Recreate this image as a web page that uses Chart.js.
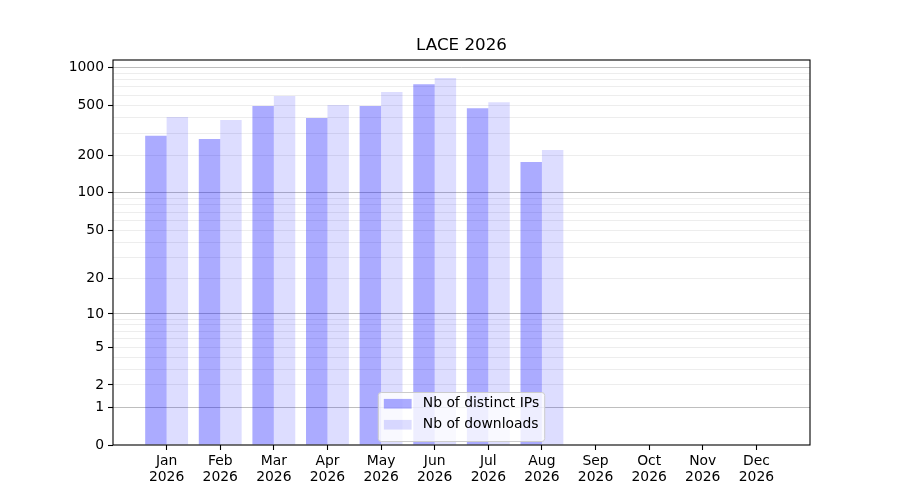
<!DOCTYPE html>
<html>
<head>
<meta charset="utf-8">
<script src="https://cdn.jsdelivr.net/npm/chart.js@4"></script>
<style>
  html, body { margin: 0; padding: 0; background: #fff; }
  #wrap { width: 900px; height: 500px; }
</style>
</head>
<body>
<div id="wrap"><canvas id="chart"></canvas></div>
<script>
// data
const months = ['Jan', 'Feb', 'Mar', 'Apr', 'May', 'Jun', 'Jul', 'Aug', 'Sep', 'Oct', 'Nov', 'Dec'];
const year = '2026';
const distinctIPs = [285, 269, 492, 395, 492, 736, 474, 176, 0, 0, 0, 0];
const downloads = [403, 381, 591, 501, 636, 822, 529, 220, 0, 0, 0, 0];
const yTickLabels = [0, 1, 2, 5, 10, 20, 50, 100, 200, 500, 1000];
const yDecades = [1, 10, 100, 1000];
const yMax = 1145;
const chartTitle = 'LACE 2026';

const FONT = 'DejaVu Sans';
Chart.defaults.font.family = FONT;
Chart.defaults.color = '#000';

// minor gridlines at 2..9 of each decade
const yGridValues = [0];
yDecades.forEach(d => {
  for (let k = 1; k <= 9; k++) yGridValues.push(d * k);
});

// y axis on a log10(1 + v) scale
class Log1pScale extends Chart.Scale {
  static id = 'log1p';
  static defaults = {};

  determineDataLimits() {
    this.min = this.options.min ?? 0;
    this.max = this.options.max ?? 1;
  }
  buildTicks() {
    return yGridValues
      .filter(v => v >= this.min && v <= this.max)
      .sort((a, b) => a - b)
      .map(v => ({ value: v }));
  }
  getLabelForValue(v) {
    return String(v);
  }
  configure() {
    super.configure();
    this._startValue = Math.log10(1 + this.min);
    this._valueRange = Math.log10(1 + this.max) - this._startValue;
  }
  getPixelForValue(v) {
    if (v === null || v === undefined || isNaN(v)) return NaN;
    return this.getPixelForDecimal((Math.log10(1 + v) - this._startValue) / this._valueRange);
  }
  getValueForPixel(p) {
    const d = this.getDecimalForPixel(p);
    return Math.pow(10, this._startValue + d * this._valueRange) - 1;
  }
}
Chart.register(Log1pScale);

// title centred over the axes, like matplotlib
const axesTitle = {
  id: 'axesTitle',
  afterDraw(chart) {
    const { ctx, chartArea: a } = chart;
    ctx.save();
    ctx.font = '16.7px "' + FONT + '"';
    ctx.fillStyle = '#000';
    ctx.textAlign = 'center';
    ctx.textBaseline = 'middle';
    ctx.fillText(chartTitle, (a.left + a.right) / 2, a.top - 14);
    ctx.restore();
  }
};

// matplotlib-style legend box inside the axes, lower center
const insideLegend = {
  id: 'insideLegend',
  afterDraw(chart) {
    const { ctx, chartArea: a } = chart;
    const fs = 13.9;
    const sets = chart.data.datasets;
    ctx.save();
    ctx.font = fs + 'px "' + FONT + '"';
    const tw = Math.max(...sets.map(d => ctx.measureText(d.label).width));
    const pad = 0.4 * fs, hl = 2 * fs, htp = 0.8 * fs;
    const w = pad + hl + htp + tw + pad;
    const h = 49;
    const x0 = (a.left + a.right) / 2 - w / 2;
    const y0 = a.bottom - 3.5 - h;

    ctx.beginPath();
    ctx.roundRect(x0, y0, w, h, 3);
    ctx.fillStyle = 'rgba(255,255,255,0.8)';
    ctx.fill();
    ctx.strokeStyle = '#cccccc';
    ctx.lineWidth = 1;
    ctx.stroke();

    sets.forEach((d, i) => {
      const cy = y0 + 11.3 + i * 21;
      ctx.fillStyle = d.backgroundColor;
      ctx.fillRect(x0 + pad, cy - 4.9, hl, 9.7);
      ctx.fillStyle = '#000';
      ctx.textBaseline = 'middle';
      ctx.textAlign = 'left';
      ctx.fillText(d.label, x0 + pad + hl + htp, cy);
    });
    ctx.restore();
  }
};

// four black spines
const frame = {
  id: 'frame',
  afterDraw(chart) {
    const { ctx, chartArea: a } = chart;
    ctx.save();
    ctx.strokeStyle = '#000';
    ctx.lineWidth = 1.1;
    ctx.strokeRect(a.left, a.top, a.right - a.left, a.bottom - a.top);
    ctx.restore();
  }
};

new Chart(document.getElementById('chart'), {
  type: 'bar',
  data: {
    datasets: [
      {
        label: 'Nb of distinct IPs',
        data: distinctIPs.map((v, i) => ({ x: i, y: v })),
        backgroundColor: 'rgba(0,0,255,0.33)',
        borderWidth: 0
      },
      {
        label: 'Nb of downloads',
        data: downloads.map((v, i) => ({ x: i, y: v })),
        backgroundColor: 'rgba(0,0,255,0.135)',
        borderWidth: 0
      }
    ]
  },
  options: {
    responsive: true,
    maintainAspectRatio: false,
    animation: false,
    devicePixelRatio: 1,
    barPercentage: 1.0,
    categoryPercentage: 0.8,
    layout: { padding: { left: 0, right: 90, top: 60, bottom: 0 } },
    plugins: {
      legend: { display: false },
      tooltip: { enabled: false },
      title: { display: false }
    },
    scales: {
      x: {
        type: 'linear',
        min: -1,
        max: 12,
        offset: false,
        grid: {
          offset: false,
          drawOnChartArea: false,
          drawTicks: true,
          tickLength: 5,
          tickWidth: 1.1,
          tickColor: c => (c.tick && c.tick.value >= 0 && c.tick.value <= 11) ? '#000' : 'rgba(0,0,0,0)'
        },
        border: { display: false },
        ticks: {
          stepSize: 1,
          autoSkip: false,
          maxRotation: 0,
          padding: 3,
          color: '#000',
          font: { size: 13.9, lineHeight: 1.15 },
          callback: v => (v >= 0 && v <= 11) ? [months[v], year] : ''
        },
        afterFit: s => { s.height = 55; }
      },
      y: {
        type: 'log1p',
        min: 0,
        max: yMax,
        z: 1,
        grid: {
          color: c => {
            if (!c.tick || c.tick.value === 0) return 'rgba(0,0,0,0)';
            return yDecades.includes(c.tick.value) ? 'rgba(110,110,110,0.45)' : 'rgba(128,128,128,0.14)';
          },
          lineWidth: 1,
          drawTicks: true,
          tickLength: 5,
          tickWidth: 1.1,
          tickColor: c => (c.tick && yTickLabels.includes(c.tick.value)) ? '#000' : 'rgba(0,0,0,0)'
        },
        border: { display: false },
        ticks: {
          autoSkip: false,
          padding: 4,
          color: '#000',
          font: { size: 13.9 },
          callback: v => yTickLabels.includes(v) ? String(v) : ''
        },
        afterFit: s => { s.width = 113; }
      }
    }
  },
  plugins: [axesTitle, insideLegend, frame]
});
</script>
</body>
</html>
